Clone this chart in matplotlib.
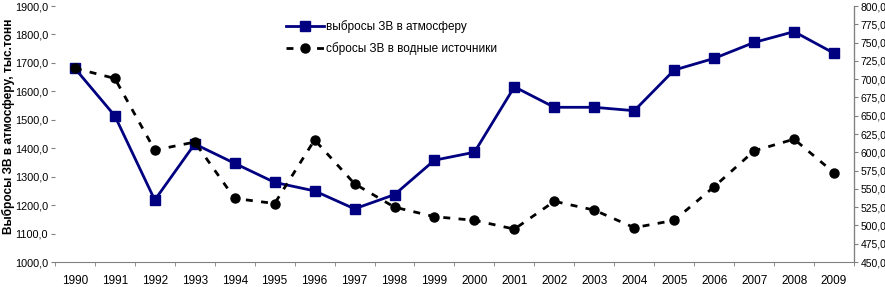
import matplotlib
matplotlib.use("Agg")
import matplotlib.pyplot as plt
import numpy as np
from matplotlib.ticker import FuncFormatter, MultipleLocator

plt.rcParams['font.family'] = ['Liberation Sans', 'DejaVu Sans']

years = [1990, 1991, 1992, 1993, 1994, 1995, 1996, 1997, 1998, 1999,
         2000, 2001, 2002, 2003, 2004, 2005, 2006, 2007, 2008, 2009]
# выбросы в атмосферу (левая ось)
air = [1681, 1514, 1218, 1415, 1347, 1280, 1250, 1187, 1237, 1358,
       1386, 1616, 1544, 1544, 1532, 1675, 1716, 1772, 1810, 1734]
# сбросы в водные источники (правая ось)
water = [715, 701, 603, 614, 537, 530, 617, 557, 525, 512,
         507, 495, 533, 521, 497, 507, 553, 602, 618, 572]

navy = '#000080'
fmt = FuncFormatter(lambda v, p: ('%.1f' % v).replace('.', ','))

fig = plt.figure(figsize=(8.85, 2.87), dpi=100)
ax1 = fig.add_axes([0.062, 0.087, 0.903, 0.892])
x = np.arange(len(years))

l1, = ax1.plot(x, air, color=navy, lw=2, marker='s', ms=6.5, mfc=navy, mec=navy,
               label='выбросы ЗВ в атмосферу', zorder=3)
ax1.set_ylim(1000, 1900)
ax1.yaxis.set_major_locator(MultipleLocator(100))
ax1.yaxis.set_major_formatter(fmt)
ax1.set_xlim(-0.5, len(years) - 0.5)
ax1.set_xticks(x)
ax1.set_xticklabels([str(y) for y in years])
ax1.set_xticks(np.arange(-0.5, len(years)), minor=True)
ax1.tick_params(axis='x', which='major', length=0, pad=9, labelsize=8.5)
ax1.tick_params(axis='x', which='minor', length=3, direction='out', color='#808080')
ax1.tick_params(axis='y', length=3, color='#808080', labelsize=7.8, pad=2)
for s in ['top', 'left']:
    ax1.spines[s].set_visible(False)
ax1.spines['bottom'].set_color('#808080')
fig.text(8 / 885, 1 - 126 / 287, 'Выбросы ЗВ в атмосферу, тыс.тонн', rotation=90,
         ha='center', va='center', fontsize=8.6, fontweight='bold')

ax2 = ax1.twinx()
l2, = ax2.plot(x, water, color='black', lw=2, ls=(0, (2.5, 3)), marker='o', ms=6.5,
               label='сбросы ЗВ в водные источники', zorder=3)
ax2.set_ylim(450, 800)
ax2.yaxis.set_major_locator(MultipleLocator(25))
ax2.yaxis.set_major_formatter(fmt)
ax2.tick_params(axis='y', length=3, color='#808080', labelsize=7.5, pad=1.5)
for s in ['top', 'left', 'bottom']:
    ax2.spines[s].set_visible(False)
ax2.spines['right'].set_color('#808080')

fig.legend(handles=[l1, l2], loc='upper left', bbox_to_anchor=(0.318, 0.945),
           frameon=False, fontsize=8.5, handlelength=3.2, handletextpad=0.2,
           labelspacing=0.75, borderaxespad=0)

fig.savefig('out.png', dpi=100)
